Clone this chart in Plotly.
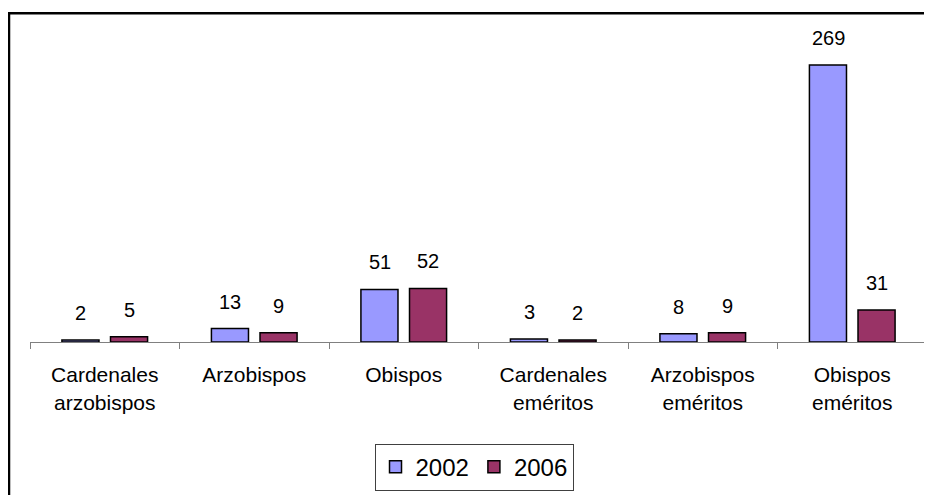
import plotly.graph_objects as go

categories = ["Cardenales<br>arzobispos", "Arzobispos", "Obispos",
              "Cardenales<br>eméritos", "Arzobispos<br>eméritos", "Obispos<br>eméritos"]
series_names = ["2002", "2006"]
values_2002 = [2, 13, 51, 3, 8, 269]
values_2006 = [5, 9, 52, 2, 9, 31]
colors = ["#9999FF", "#993366"]

FONT = "Liberation Sans, Arial, sans-serif"

fig = go.Figure()
for name, vals, col in zip(series_names, [values_2002, values_2006], colors):
    fig.add_trace(go.Bar(
        x=categories, y=vals, name=name,
        marker=dict(color=col, line=dict(color="black", width=1.5)),
    ))

# data labels as annotations above each bar
offsets = [-24.25, 24.25]
annotations = []
for vals, xs in zip([values_2002, values_2006], offsets):
    for c, v in zip(categories, vals):
        annotations.append(dict(
            x=c, y=v, xref="x", yref="y", text=str(v), showarrow=False,
            xshift=xs, yshift=14, yanchor="bottom",
            font=dict(family=FONT, size=20, color="black"),
        ))

fig.update_layout(
    width=924, height=487,
    margin=dict(l=22, r=5, t=25, b=149),
    paper_bgcolor="white", plot_bgcolor="white",
    barmode="group", bargap=0.35, bargroupgap=0.237,
    font=dict(family=FONT, size=20, color="black"),
    showlegend=True,
    legend=dict(
        orientation="h", x=0.495, xanchor="center", y=-0.329, yanchor="top",
        bordercolor="#404040", borderwidth=1, bgcolor="white",
        font=dict(family=FONT, size=24, color="black"),
        itemwidth=30,
    ),
    annotations=annotations,
    shapes=[dict(type="rect", xref="paper", yref="paper",
                 x0=-0.0234, x1=1.03, y0=-0.7, y1=1.064,
                 line=dict(color="black", width=2.5), layer="above")],
)
fig.update_xaxes(
    showline=True, linecolor="#808080", linewidth=1,
    ticks="outside", tickson="boundaries", ticklen=6, tickcolor="#808080",
    ticklabelstandoff=14,
    tickfont=dict(family=FONT, size=21, color="black"),
    showgrid=False, zeroline=False,
)
fig.update_yaxes(visible=False, range=[0, 300], showgrid=False, zeroline=False)

fig.write_html("out.html")
